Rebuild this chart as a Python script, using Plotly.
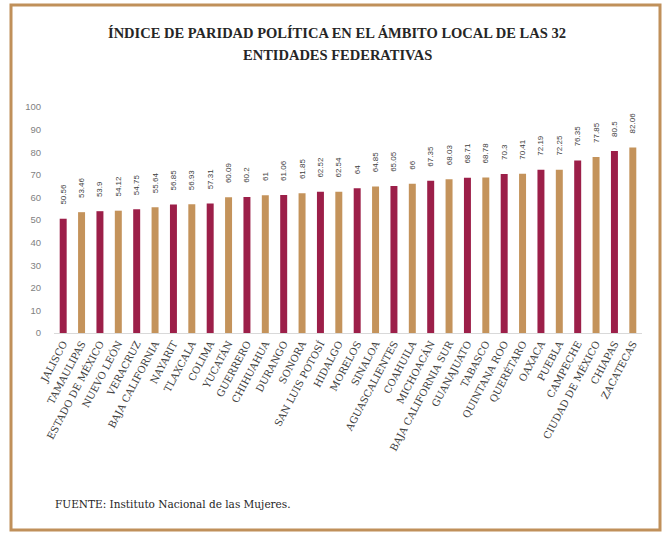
import plotly.graph_objects as go

estados = ["JALISCO", "TAMAULIPAS", "ESTADO DE MÉXICO", "NUEVO LEÓN", "VERACRUZ",
           "BAJA CALIFORNIA", "NAYARIT", "TLAXCALA", "COLIMA", "YUCATÁN", "GUERRERO",
           "CHIHUAHUA", "DURANGO", "SONORA", "SAN LUIS POTOSÍ", "HIDALGO", "MORELOS",
           "SINALOA", "AGUASCALIENTES", "COAHUILA", "MICHOACÁN", "BAJA CALIFORNIA SUR",
           "GUANAJUATO", "TABASCO", "QUINTANA ROO", "QUERÉTARO", "OAXACA", "PUEBLA",
           "CAMPECHE", "CIUDAD DE MÉXICO", "CHIAPAS", "ZACATECAS"]
indice = [50.56, 53.46, 53.9, 54.12, 54.75, 55.64, 56.85, 56.93, 57.31, 60.09, 60.2,
          61, 61.06, 61.85, 62.52, 62.54, 64, 64.85, 65.05, 66, 67.35, 68.03, 68.71,
          68.78, 70.3, 70.41, 72.19, 72.25, 76.35, 77.85, 80.5, 82.06]
y_ticks = [0, 10, 20, 30, 40, 50, 60, 70, 80, 90, 100]

CRIMSON = "#9C1F49"
TAN = "#C4935B"
colors = [CRIMSON if i % 2 == 0 else TAN for i in range(len(estados))]
labels = ["\u00a0" * 5 + f"{v:g}" for v in indice]

fig = go.Figure(go.Bar(
    x=estados, y=indice, marker=dict(color=colors, line=dict(width=0)),
    text=labels, textposition="outside", textangle=-90, constraintext="none",
    textfont=dict(family="Liberation Sans", size=8, color="#404040"),
    cliponaxis=False, hoverinfo="skip",
))

W, H = 665, 533
L, R, T, B = 54, 23, 107, 200
pw = W - L - R
ph = H - T - B

def px(x):
    return (x - L) / pw

def py(y):
    return (H - B - y) / ph

fig.update_layout(
    width=W, height=H, margin=dict(l=L, r=R, t=T, b=B),
    paper_bgcolor="white", plot_bgcolor="white", showlegend=False,
    bargap=0.62,
    xaxis=dict(showline=True, linecolor="#D9D9D9", linewidth=1, showgrid=False,
               tickangle=-62, ticks="", automargin=False,
               tickfont=dict(family="DejaVu Serif", size=10, color="#404040")),
    yaxis=dict(range=[0, 100], tickvals=y_ticks, showgrid=False, zeroline=False, showline=False,
               ticks="", ticklabelstandoff=12, automargin=False,
               tickfont=dict(family="Liberation Sans", size=9.5, color="#7F7F7F")),
    shapes=[dict(type="rect", xref="paper", yref="paper",
                 x0=px(11), x1=px(660), y0=py(530), y1=py(5),
                 line=dict(color="#C0905A", width=3), fillcolor="rgba(0,0,0,0)", layer="below")],
    annotations=[
        dict(text="<b>ÍNDICE DE PARIDAD POLÍTICA EN EL ÁMBITO LOCAL DE LAS 32</b>",
             xref="paper", yref="paper", x=px(337), y=py(33), xanchor="center", yanchor="middle",
             showarrow=False, font=dict(family="Liberation Serif", size=14.5, color="#262626")),
        dict(text="<b>ENTIDADES FEDERATIVAS</b>",
             xref="paper", yref="paper", x=px(337), y=py(55), xanchor="center", yanchor="middle",
             showarrow=False, font=dict(family="Liberation Serif", size=14.5, color="#262626")),
        dict(text="FUENTE: Instituto Nacional de las Mujeres.",
             xref="paper", yref="paper", x=px(53), y=py(504), xanchor="left", yanchor="middle",
             showarrow=False, font=dict(family="DejaVu Serif", size=10.5, color="#262626")),
    ],
)

fig.write_html("out.html", config={"displayModeBar": False},
               post_script="document.body.style.margin='0px';document.body.style.padding='0px';")
